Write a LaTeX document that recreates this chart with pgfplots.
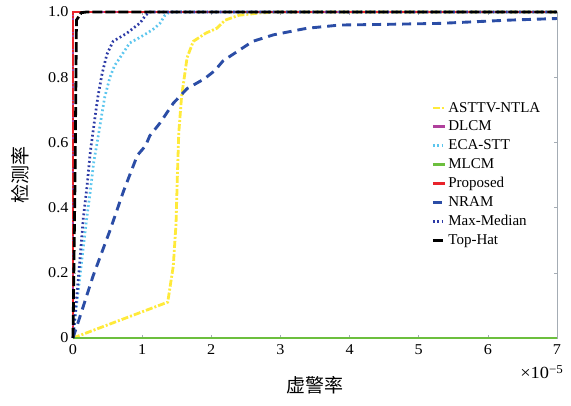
\documentclass[border=0pt]{standalone}
\usepackage{fontspec}
\setmainfont{Liberation Serif}
\newfontfamily\tickfont[FakeStretch=1.08]{Liberation Serif}
\newfontfamily\cjk{Noto Sans CJK SC}
\usepackage{pgfplots}
\pgfplotsset{compat=1.18}

\definecolor{cYel}{HTML}{FFEA3A}
\definecolor{cMag}{HTML}{B0409C}
\definecolor{cLblue}{HTML}{5CC6EE}
\definecolor{cGreen}{HTML}{6CBF3E}
\definecolor{cRed}{HTML}{E8232B}
\definecolor{cNram}{HTML}{2B4DA6}
\definecolor{cMaxm}{HTML}{2C3AA6}
\definecolor{cAxis}{HTML}{A4ACB4}

\begin{document}
\begin{tikzpicture}
\begin{axis}[
  scale only axis,
  width=484bp, height=326bp,
  xmin=0, xmax=7, ymin=0, ymax=1,
  xtick={0,1,...,7},
  ytick={0,0.2,0.4,0.6,0.8,1.0},
  yticklabels={0,0.2,0.4,0.6,0.8,1.0},
  tick align=inside,
  major tick length=3bp,
  tick style={cAxis, line width=0.6pt},
  axis line style={cAxis, line width=0.9pt},
  /pgf/number format/assume math mode=true,
  ticklabel style={font=\tickfont\fontsize{15bp}{17bp}\selectfont},
  xticklabel style={yshift=-3bp},
  yticklabel style={xshift=-1bp},
  clip=false,
  legend cell align=left,
  legend style={draw=none, fill=none,
    font=\fontsize{15bp}{17bp}\selectfont,
    at={(0.738,0.733)}, anchor=north west,
    row sep=3.4bp, inner sep=1bp},
  legend image code/.code={\draw[#1, dash phase=0bp] (0bp,0bp) -- (12bp,0bp);},
]
% ASTTV-NTLA
\addplot[cYel, line width=2.8pt, dash pattern=on 7bp off 2bp on 2bp off 2bp] coordinates {
(0,0) (1.37,0.11) (1.45,0.22) (1.49,0.35) (1.51,0.50) (1.53,0.63) (1.57,0.74)
(1.61,0.80) (1.65,0.86) (1.74,0.91) (1.92,0.935) (2.08,0.95) (2.2,0.975)
(2.4,0.99) (2.7,0.997) (2.95,1.0) (7,1.0)};
\addlegendentry{ASTTV-NTLA}
% DLCM
\addplot[cMag, line width=2.8pt] coordinates {(0,0) (0,1) (7,1)};
\addlegendentry{DLCM}
% ECA-STT
\addplot[cLblue, line width=2.7pt, dash pattern=on 1.8bp off 2.6bp] coordinates {
(0,0) (0.03,0.06) (0.1,0.19) (0.2,0.37) (0.25,0.45) (0.3,0.54) (0.35,0.60)
(0.42,0.69) (0.46,0.74) (0.535,0.80) (0.6,0.835) (0.68,0.86) (0.82,0.905)
(0.95,0.92) (1.07,0.935) (1.18,0.95) (1.26,0.966) (1.33,0.99) (1.4,1.0) (7,1.0)};
\addlegendentry{ECA-STT}
% MLCM
\addplot[cGreen, line width=3pt] coordinates {(0,0) (7,0)};
\addlegendentry{MLCM}
% Proposed
\addplot[cRed, line width=2.8pt, dash pattern=on 12bp off 1.5bp on 2bp off 1.5bp] coordinates {(0,0) (0,1) (7,1)};
\addlegendentry{Proposed}
% NRAM
\addplot[cNram, line width=2.9pt, dash pattern=on 9bp off 6bp] coordinates {
(0,0) (0.1,0.065) (0.29,0.19) (0.535,0.33) (0.73,0.45) (0.93,0.56) (1.05,0.59)
(1.11,0.62) (1.26,0.66) (1.45,0.72) (1.65,0.765) (1.9,0.795) (2.05,0.82)
(2.17,0.85) (2.42,0.885) (2.6,0.91) (2.9,0.93) (3.38,0.95) (3.86,0.96)
(4.5,0.962) (5.3,0.965) (5.8,0.97) (6.3,0.975) (7,0.98)};
\addlegendentry{NRAM}
% Max-Median
\addplot[cMaxm, line width=2.7pt, dash pattern=on 1.8bp off 2.6bp] coordinates {
(0,0) (0.08,0.19) (0.15,0.37) (0.2,0.46) (0.25,0.57) (0.32,0.68) (0.36,0.74)
(0.42,0.81) (0.49,0.87) (0.58,0.91) (0.7,0.925) (0.78,0.935) (0.9,0.955)
(0.97,0.966) (1.05,0.99) (1.11,1.0) (7,1.0)};
\addlegendentry{Max-Median}
% Top-Hat
\addplot[black, line width=2.8pt, dash pattern=on 10bp off 3bp] coordinates {
(0,0) (0.03,0.5) (0.05,0.975) (0.12,0.998) (0.2,1.0) (7,1.0)};
\addlegendentry{Top-Hat}

% exponent of the x axis and axis titles
\node[anchor=east, inner sep=0pt, font=\tickfont\fontsize{17bp}{18bp}\selectfont]
  at ([yshift=-34bp, xshift=6bp]rel axis cs:1,0)
  {×10\raisebox{5bp}{\fontsize{12bp}{12bp}\selectfont −5}};
\node[inner sep=0pt, font=\cjk\fontsize{19bp}{21bp}\selectfont]
  at ([yshift=-47bp]rel axis cs:0.5,0) {虚警率};
\node[inner sep=0pt, rotate=90, font=\cjk\fontsize{19bp}{21bp}\selectfont]
  at ([xshift=-53bp]rel axis cs:0,0.5) {检测率};
% page extent around the axis
\path ([xshift=-73bp, yshift=-68bp]rel axis cs:0,0)
  rectangle ([xshift=14bp, yshift=12bp]rel axis cs:1,1);
\end{axis}
\end{tikzpicture}
\end{document}
